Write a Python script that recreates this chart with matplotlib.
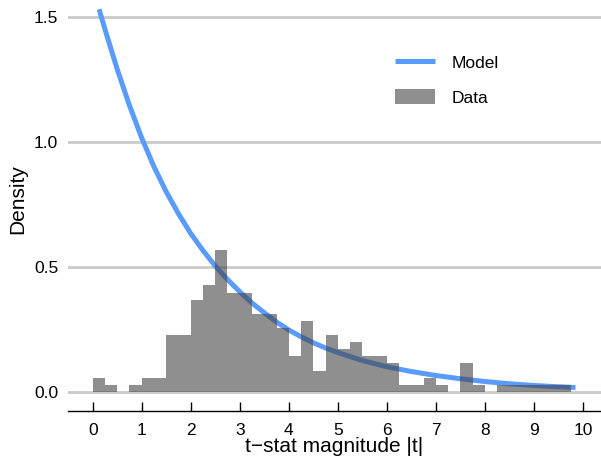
import numpy as np
import matplotlib
matplotlib.use('Agg')
import matplotlib.pyplot as plt

plt.rcParams['font.family'] = ['Liberation Sans', 'DejaVu Sans']

# histogram of |t| (density), bins of width 0.25 from 0 to 10
bin_width = 0.25
bin_left = [0.0, 0.25, 0.5, 0.75, 1.0, 1.25, 1.5, 1.75, 2.0, 2.25,
            2.5, 2.75, 3.0, 3.25, 3.5, 3.75, 4.0, 4.25, 4.5, 4.75,
            5.0, 5.25, 5.5, 5.75, 6.0, 6.25, 6.5, 6.75, 7.0, 7.25,
            7.5, 7.75, 8.0, 8.25, 8.5, 8.75, 9.0, 9.25, 9.5, 9.75]
data_density = [0.057, 0.028, 0.0, 0.028, 0.057, 0.057, 0.227, 0.227, 0.369, 0.426,
                0.567, 0.397, 0.397, 0.312, 0.312, 0.255, 0.142, 0.284, 0.085, 0.227,
                0.170, 0.199, 0.142, 0.142, 0.114, 0.028, 0.028, 0.057, 0.028, 0.0,
                0.114, 0.028, 0.0, 0.028, 0.028, 0.028, 0.028, 0.028, 0.028, 0.0]

# model curve
model_t = [0.13, 0.25, 0.5, 0.75, 1.0, 1.25, 1.5, 1.75, 2.0, 2.25, 2.5, 2.75,
           3.0, 3.25, 3.5, 3.75, 4.0, 4.25, 4.5, 4.75, 5.0, 5.5, 6.0, 6.5,
           7.0, 7.5, 8.0, 8.5, 9.0, 9.5, 9.85]
model_density = [1.53, 1.45, 1.29, 1.145, 1.015, 0.90, 0.80, 0.712, 0.633, 0.565, 0.503, 0.449,
                 0.400, 0.355, 0.316, 0.279, 0.247, 0.220, 0.196, 0.175, 0.157, 0.125, 0.100, 0.081,
                 0.065, 0.052, 0.041, 0.032, 0.025, 0.020, 0.017]

xticks = [0, 1, 2, 3, 4, 5, 6, 7, 8, 9, 10]
yticks = [0.0, 0.5, 1.0, 1.5]

W, H = 601, 463
fig = plt.figure(figsize=(W / 100, H / 100), dpi=100)
ax = fig.add_axes([68 / W, 1 - 398 / H, 1 - 68 / W, 398 / H])

for yv in yticks:
    ax.axhline(yv, color='#cacaca', lw=2.0, zorder=0)

ax.plot(model_t, model_density, color='#5a9bff', lw=3.6, solid_capstyle='butt',
        zorder=2, label='Model')
ax.bar(bin_left, data_density, width=bin_width, align='edge', color='#444444',
       alpha=0.6, linewidth=0, zorder=3, label='Data')

ax.set_xlim(-0.504, 10.37)
ax.set_ylim(-0.025, 1.567)
ax.set_xticks(xticks)
ax.set_yticks(yticks)
ax.set_yticklabels(['%.1f' % v for v in yticks])

for s in ['top', 'right', 'left']:
    ax.spines[s].set_visible(False)
ax.spines['bottom'].set_position(('outward', 9))
ax.spines['bottom'].set_linewidth(1.0)
ax.tick_params(axis='x', direction='in', length=6.5, width=1.0, pad=9,
               labelsize=12.5, colors='black')
ax.tick_params(axis='y', length=0, pad=7, labelsize=12.5)

ax.set_xlabel('t\u2212stat magnitude |t|', fontsize=15, labelpad=-1)
ax.set_ylabel('Density', fontsize=15, labelpad=5)

ax.legend(loc='upper left', bbox_to_anchor=(395 / W, 1 - 54 / H),
          bbox_transform=fig.transFigure, frameon=False, fontsize=12.5,
          handlelength=2.3, handleheight=1.0, handletextpad=0.95,
          labelspacing=1.05, borderpad=0, borderaxespad=0)

fig.savefig('out.png', dpi=100)
